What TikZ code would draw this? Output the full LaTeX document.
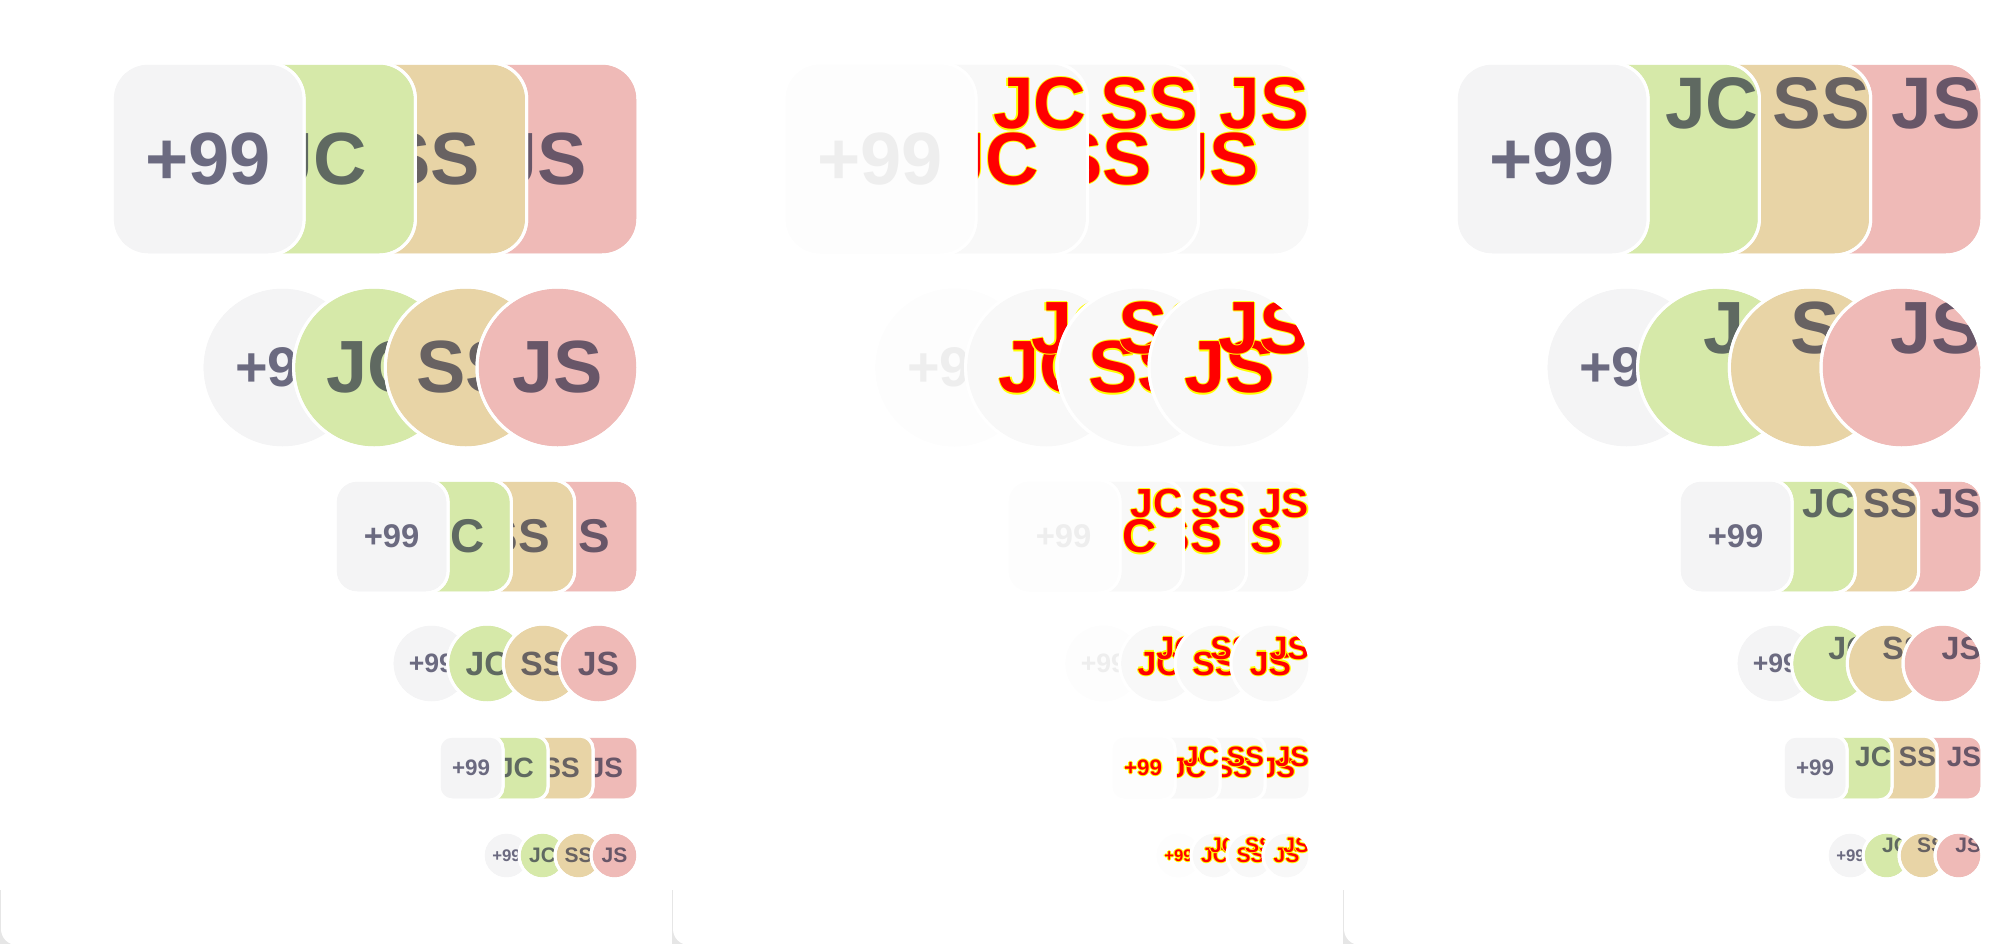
\documentclass[tikz,border=0pt]{standalone}
\usepackage{fontspec}
\setmainfont{Liberation Sans}
\definecolor{av0}{HTML}{F4F4F5}
\definecolor{av1}{HTML}{D6E9A9}
\definecolor{av2}{HTML}{E8D4A6}
\definecolor{av3}{HTML}{EFBAB7}
\definecolor{at0}{HTML}{6B6A80}
\definecolor{at1}{HTML}{5F6961}
\definecolor{at2}{HTML}{686262}
\definecolor{at3}{HTML}{685668}
\definecolor{dd0}{HTML}{FDFDFD}
\definecolor{dd1}{HTML}{F8F8F8}
\definecolor{dd2}{HTML}{F8F8F8}
\definecolor{dd3}{HTML}{F8F8F8}
\definecolor{faint}{HTML}{EEEEEE}
\definecolor{dr}{HTML}{FF0000}
\definecolor{dy}{HTML}{FFFF00}
\definecolor{cardshadow}{HTML}{E6E6E6}
\newbox\dfbox
\newcommand\avini[1]{\ifcase#1 +99\or JC\or SS\or JS\fi}
\newcommand\dfx[1]{\setbox\dfbox\hbox{#1}%
  \rlap{\kern-0.6pt\textcolor{dy}{\copy\dfbox}}%
  \rlap{\kern0.6pt\textcolor{dy}{\copy\dfbox}}%
  \rlap{\smash{\raisebox{0.6pt}{\textcolor{dy}{\copy\dfbox}}}}%
  \rlap{\smash{\raisebox{-0.6pt}{\textcolor{dy}{\copy\dfbox}}}}%
  \textcolor{dr}{\copy\dfbox}}
\tikzset{
  avatar/.style={draw=white, line width=1.5pt, inner sep=0pt, outer sep=0pt},
  lbl/.style={inner sep=0pt, outer sep=0pt},
  card/.style={fill=white, rounded corners=8pt},
}
\begin{document}
\begin{tikzpicture}[x=0.5pt,y=-0.5pt]
\useasboundingbox (0,0) rectangle (2016,944);
\fill[white] (0,0) rectangle (2016,944);
% cards (three screenshots side by side)
\foreach \xa/\xb/\cl in {0/672/1, 672/1343/673, 1343/2016/1344}{
  \begin{scope}
    \clip (\xa,0) rectangle (\xb,944);
    \fill[cardshadow] (\xa,890) rectangle (\xa+40,944);
    \path[card] (\cl,-40) rectangle (\cl+800,945);
  \end{scope}
}
% avatar groups
\foreach \r/\shp/\rev/\s/\st/\ty/\rad/\fa/\fb/\fp/\pad in {
  1/rectangle/1/192/111.3/63/36/37/36.5/37/15,
  2/circle/0/161/91.7/287/1/37/37/27.9/15,
  3/rectangle/1/113/63.3/480/22/23.7/20.3/16.4/9,
  4/circle/0/79/55.7/624/1/16.8/16.1/13.3/12.7,
  5/rectangle/1/64/45/736/13/14/14/11.2/10.7,
  6/circle/0/47/36/832/1/10.5/10.5/8.4/6}{
  \foreach \p in {1,2,3}{
    \pgfmathsetmacro\R{638+672*(\p-1)}
    \foreach \k in {0,1,2,3}{
      \pgfmathtruncatemacro\i{\rev*(3-\k)+(1-\rev)*\k}
      \pgfmathsetmacro\cx{\R-\s/2-(3-\i)*\st}
      \pgfmathsetmacro\cy{\ty+\s/2}
      \pgfmathsetmacro\xr{\cx+\s/2-1}
      \pgfmathsetmacro\yt{\ty+\pad}
      \ifnum\p=2 \def\fc{dd\i}\else\def\fc{av\i}\fi
      \node[avatar, shape=\shp, minimum size=\s*0.5pt, rounded corners=\rad*0.5pt,
            fill=\fc] (a\p-\r-\i) at (\cx,\cy) {};
      \begin{scope}
        \ifnum\rev=1
          \clip[rounded corners=\rad*0.5pt] ({\cx-\s/2},\ty) rectangle ({\cx+\s/2},{\ty+\s});
        \else
          \clip (\cx,\cy) circle[radius=\s*0.25pt];
        \fi
        \ifnum\i=0
          \ifnum\p=2
            \ifnum\r>4
              \node[lbl,text=dr,font=\fontsize{\fp}{\fp}\selectfont\bfseries] (t\p-\r-\i) at (a\p-\r-\i.center) {\dfx{+99}};
            \else
              \node[lbl,text=faint,font=\fontsize{\fp}{\fp}\selectfont\bfseries] (t\p-\r-\i) at (a\p-\r-\i.center) {+99};
            \fi
          \else
            \node[lbl,text=at0,font=\fontsize{\fp}{\fp}\selectfont\bfseries] (t\p-\r-\i) at (a\p-\r-\i.center) {+99};
          \fi
        \else
          \ifnum\p=1
            \node[lbl,text=at\i,font=\fontsize{\fa}{\fa}\selectfont\bfseries] (t\p-\r-\i) at (a\p-\r-\i.center) {\avini{\i}};
          \fi
          \ifnum\p=3
            \node[lbl,anchor=north east,text=at\i,font=\fontsize{\fb}{\fb}\selectfont\bfseries] (t\p-\r-\i) at (\xr,\yt) {\avini{\i}};
          \fi
          \ifnum\p=2
            \node[lbl,text=dr,font=\fontsize{\fa}{\fa}\selectfont\bfseries] (t\p-\r-\i) at (a\p-\r-\i.center) {\dfx{\avini{\i}}};
            \node[lbl,anchor=north east,text=dr,font=\fontsize{\fb}{\fb}\selectfont\bfseries] (u\p-\r-\i) at (\xr,\yt) {\dfx{\avini{\i}}};
          \fi
        \fi
      \end{scope}
      \node[avatar, shape=\shp, minimum size=\s*0.5pt, rounded corners=\rad*0.5pt] (b\p-\r-\i) at (\cx,\cy) {};
    }
  }
}
\end{tikzpicture}
\end{document}
